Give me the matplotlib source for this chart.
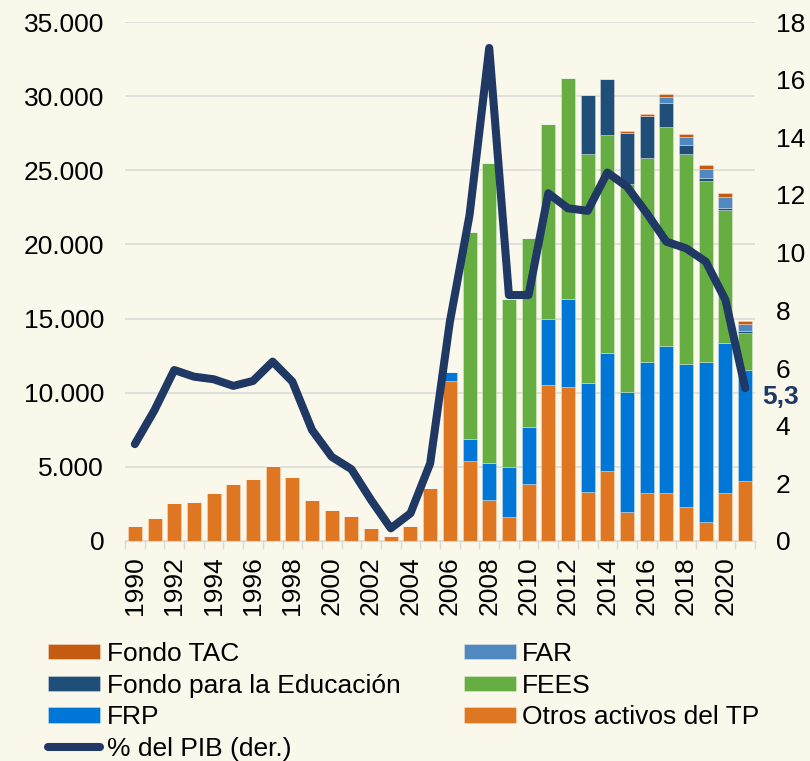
import matplotlib
matplotlib.use("Agg")
import matplotlib.pyplot as plt
import numpy as np

plt.rcParams["font.family"] = ["Liberation Sans", "DejaVu Sans"]

years = list(range(1990, 2022))

# millones de US$
otros = [1000, 1570, 2580, 2630, 3260, 3840, 4160, 5060, 4320, 2760, 2110, 1660, 880, 340, 1010, 3600,
         10810, 5370, 2760, 1600, 3860, 10520, 10360, 3300, 4740, 1960, 3240, 3210, 2270, 1260, 3210, 4070]
frp = [0] * 16 + [610, 1490, 2520, 3410, 3850, 4430, 5940, 7330, 7960, 8110, 8830, 9960, 9690, 10810, 10120, 7460]
fees = [0] * 17 + [14000, 20230, 11290, 12700, 13150, 14940, 15470, 14680, 14000, 13780, 14770, 14140, 12230, 8970, 2470]
educacion = [0] * 23 + [3950, 3750, 3460, 2830, 1620, 600, 200, 130, 180]
far = [0] * 27 + [360, 520, 580, 750, 450]
tac = [0] * 25 + [100, 110, 250, 220, 250, 290, 230]

# % del PIB (eje derecho)
pib = [3.36, 4.54, 5.93, 5.70, 5.61, 5.38, 5.55, 6.22, 5.53, 3.85, 2.92, 2.49, 1.42, 0.44, 0.96, 2.69,
       7.6, 11.3, 17.1, 8.53, 8.53, 12.06, 11.54, 11.45, 12.78, 12.29, 11.37, 10.38, 10.15, 9.69, 8.36, 5.3]

bg = "#FAF7EB"
c_otros = "#DF7621"
c_frp = "#0077D6"
c_fees = "#66AE41"
c_edu = "#1F4E79"
c_far = "#5089BF"
c_tac = "#C55A11"
c_line = "#1F3864"
fs = 19

fig = plt.figure(figsize=(8.1, 7.61), dpi=100, facecolor=bg)
ax = fig.add_axes([125 / 810, 1 - 541 / 761, 630 / 810, 519 / 761])
ax.set_facecolor("none")
ax2 = ax.twinx()

x = np.arange(len(years))
w = 0.71
ec = (1, 1, 1, 0.35)
bottom = np.zeros(len(years))
handles = {}
for name, vals, col in [("Otros activos del TP", otros, c_otros), ("FRP", frp, c_frp),
                        ("FEES", fees, c_fees), ("Fondo para la Educación", educacion, c_edu),
                        ("FAR", far, c_far), ("Fondo TAC", tac, c_tac)]:
    vals = np.array(vals, dtype=float)
    b = ax.bar(x, vals, w, bottom=bottom, color=col, edgecolor=ec, linewidth=0.6, label=name)
    handles[name] = b
    bottom += vals

ln, = ax2.plot(x, pib, color=c_line, lw=5.8, solid_capstyle="round", solid_joinstyle="round",
               label="% del PIB (der.)")
ax2.annotate("5,3", xy=(x[-1], pib[-1]), xytext=(12, -6.5), textcoords="offset points",
             ha="left", va="center", fontsize=fs, fontweight="bold", color=c_line)

ax.set_xlim(-0.5, len(years) - 0.5)
ax.set_ylim(0, 35000)
ax.set_yticks(range(0, 35001, 5000))
ax.set_yticklabels(["{:,}".format(v).replace(",", ".") for v in range(0, 35001, 5000)])
ax2.set_ylim(0, 18)
ax2.set_yticks(range(0, 19, 2))

ax.set_xticks(x)
ax.set_xticklabels([str(y) if y % 2 == 0 else "" for y in years], rotation=90)
ax.set_xticks(np.arange(-0.5, len(years), 1), minor=True)
ax.tick_params(axis="x", which="major", length=0, pad=11, labelsize=fs)
ax.tick_params(axis="x", which="minor", length=6, color="#D9D9D9", width=1)
ax.tick_params(axis="y", length=0, pad=15, labelsize=fs)
ax2.tick_params(axis="y", length=0, pad=15, labelsize=fs)

ax.grid(axis="y", color="#D9D9D9", lw=1.1)
ax.set_axisbelow(True)
for a in (ax, ax2):
    for s in ("top", "left", "right", "bottom"):
        a.spines[s].set_visible(False)
ax.spines["bottom"].set_visible(True)
ax.spines["bottom"].set_color("#D9D9D9")

order = ["Fondo TAC", "Fondo para la Educación", "FRP", None, "FAR", "FEES", "Otros activos del TP"]
hs = [handles[n] if n else ln for n in order]
ls = [n if n else "% del PIB (der.)" for n in order]
fig.legend(hs, ls, ncol=2, loc="upper left", bbox_to_anchor=(48 / 810, 1 - 642 / 761),
           frameon=False, fontsize=fs, borderpad=0, handlelength=1.97, handleheight=0.53,
           handletextpad=0.25, labelspacing=0.29, columnspacing=2.4, borderaxespad=0)

fig.savefig("out.png", dpi=100, facecolor=bg)
